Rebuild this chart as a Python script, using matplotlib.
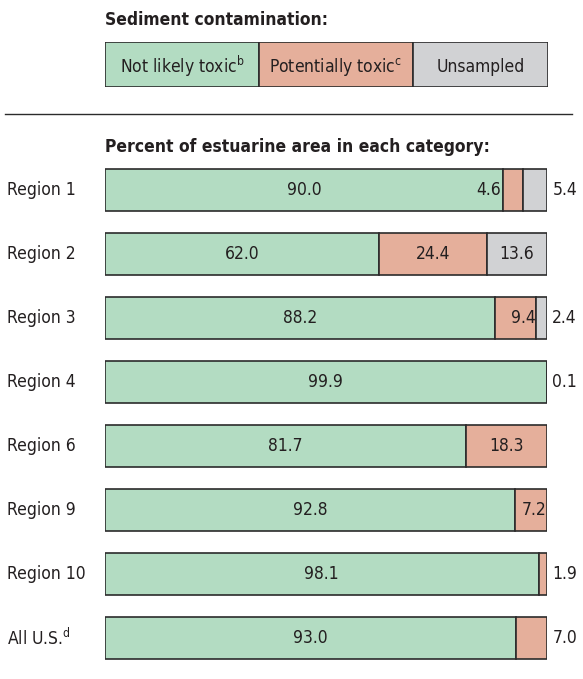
import matplotlib
matplotlib.use("Agg")
import matplotlib.pyplot as plt
from matplotlib.patches import Rectangle
from matplotlib.lines import Line2D

plt.rcParams['font.family'] = ['DejaVu Sans']
plt.rcParams['font.stretch'] = 'condensed'
plt.rcParams['mathtext.fontset'] = 'custom'
plt.rcParams['mathtext.rm'] = 'DejaVu Sans:stretch=condensed'

# data
regions = ["Region 1", "Region 2", "Region 3", "Region 4",
           "Region 6", "Region 9", "Region 10", "All U.S.$^{\\mathregular{d}}$"]
not_toxic = [90.0, 62.0, 88.2, 99.9, 81.7, 92.8, 98.1, 93.0]
pot_toxic = [4.6, 24.4, 9.4, 0.1, 18.3, 7.2, 1.9, 7.0]
unsampled = [5.4, 13.6, 2.4, 0.0, 0.0, 0.0, 0.0, 0.0]
legend_labels = ["Not likely toxic$^{\\mathregular{b}}$",
                 "Potentially toxic$^{\\mathregular{c}}$", "Unsampled"]

GREEN = "#b3dcc2"
SALMON = "#e5af9b"
GREY = "#d1d2d4"
EDGE = "#2b2b2b"
TXT = "#231f20"

W, H = 583, 679
fig = plt.figure(figsize=(W / 100, H / 100), dpi=100)

def px(x0, y0, w, h):
    return [x0 / W, 1 - (y0 + h) / H, w / W, h / H]

# titles
fig.text(105 / W, 1 - 20 / H, "Sediment contamination:", fontsize=12.5,
         fontweight="bold", color=TXT, va="center", ha="left")
fig.text(105 / W, 1 - 147 / H, "Percent of estuarine area in each category:",
         fontsize=12.5, fontweight="bold", color=TXT, va="center", ha="left")

# legend boxes
lax = fig.add_axes(px(105, 42, 443, 45))
lax.set_xlim(0, 443)
lax.set_ylim(0, 1)
lax.axis("off")
cells = [(0, 154, GREEN), (154, 154, SALMON), (308, 135, GREY)]
for (x0, w, c), lab in zip(cells, legend_labels):
    lax.add_patch(Rectangle((x0, 0), w, 1, facecolor=c, edgecolor=EDGE, lw=1.2))
    lax.text(x0 + w / 2, 0.45, lab, ha="center", va="center",
             fontsize=12.5, color=TXT)

# separator rule
fig.add_artist(Line2D([5 / W, 572 / W], [1 - 114 / H, 1 - 114 / H],
                      color=EDGE, lw=1.0))

# stacked bars
ax = fig.add_axes(px(105, 158, 442, 512))
n = len(regions)
ypos = list(range(n))
kw = dict(height=0.66, edgecolor=EDGE, linewidth=1.2)
ax.barh(ypos, not_toxic, color=GREEN, **kw)
ax.barh(ypos, pot_toxic, left=not_toxic, color=SALMON, **kw)
lefts = [a + b for a, b in zip(not_toxic, pot_toxic)]
for i in range(n):
    if unsampled[i] > 0:
        ax.barh(i, unsampled[i], left=lefts[i], color=GREY, **kw)
ax.set_xlim(0, 100)
ax.set_ylim(n - 0.5, -0.5)
ax.axis("off")

# where the potentially-toxic number goes: inside, beside the green, or outside
pot_place = ["left", "mid", "in", "out", "mid", "in", "out", "out"]

fs = 12.5
for i in range(n):
    g, p, u = not_toxic[i], pot_toxic[i], unsampled[i]
    ax.text(g / 2, i, f"{g:.1f}", ha="center", va="center", fontsize=fs, color=TXT)
    where = pot_place[i]
    if where == "mid":
        ax.text(g + p / 2, i, f"{p:.1f}", ha="center", va="center",
                fontsize=fs, color=TXT)
    elif where == "in":
        ax.text(g + p - 0.2, i, f"{p:.1f}", ha="right", va="center",
                fontsize=fs, color=TXT)
    elif where == "left":
        ax.text(g - 0.5, i, f"{p:.1f}", ha="right", va="center",
                fontsize=fs, color=TXT)
    else:
        ax.text(101.2, i, f"{p:.1f}", ha="left", va="center",
                fontsize=fs, color=TXT)
    if u >= 10:
        ax.text(g + p + u / 2, i, f"{u:.1f}", ha="center", va="center",
                fontsize=fs, color=TXT)
    elif u > 0:
        ax.text(101.2, i, f"{u:.1f}", ha="left", va="center",
                fontsize=fs, color=TXT)
    ax.text(7 / W, 1 - (190 + 64 * i) / H, regions[i], ha="left", va="center",
            fontsize=fs, color=TXT, transform=fig.transFigure)

fig.savefig("out.png", dpi=100)
